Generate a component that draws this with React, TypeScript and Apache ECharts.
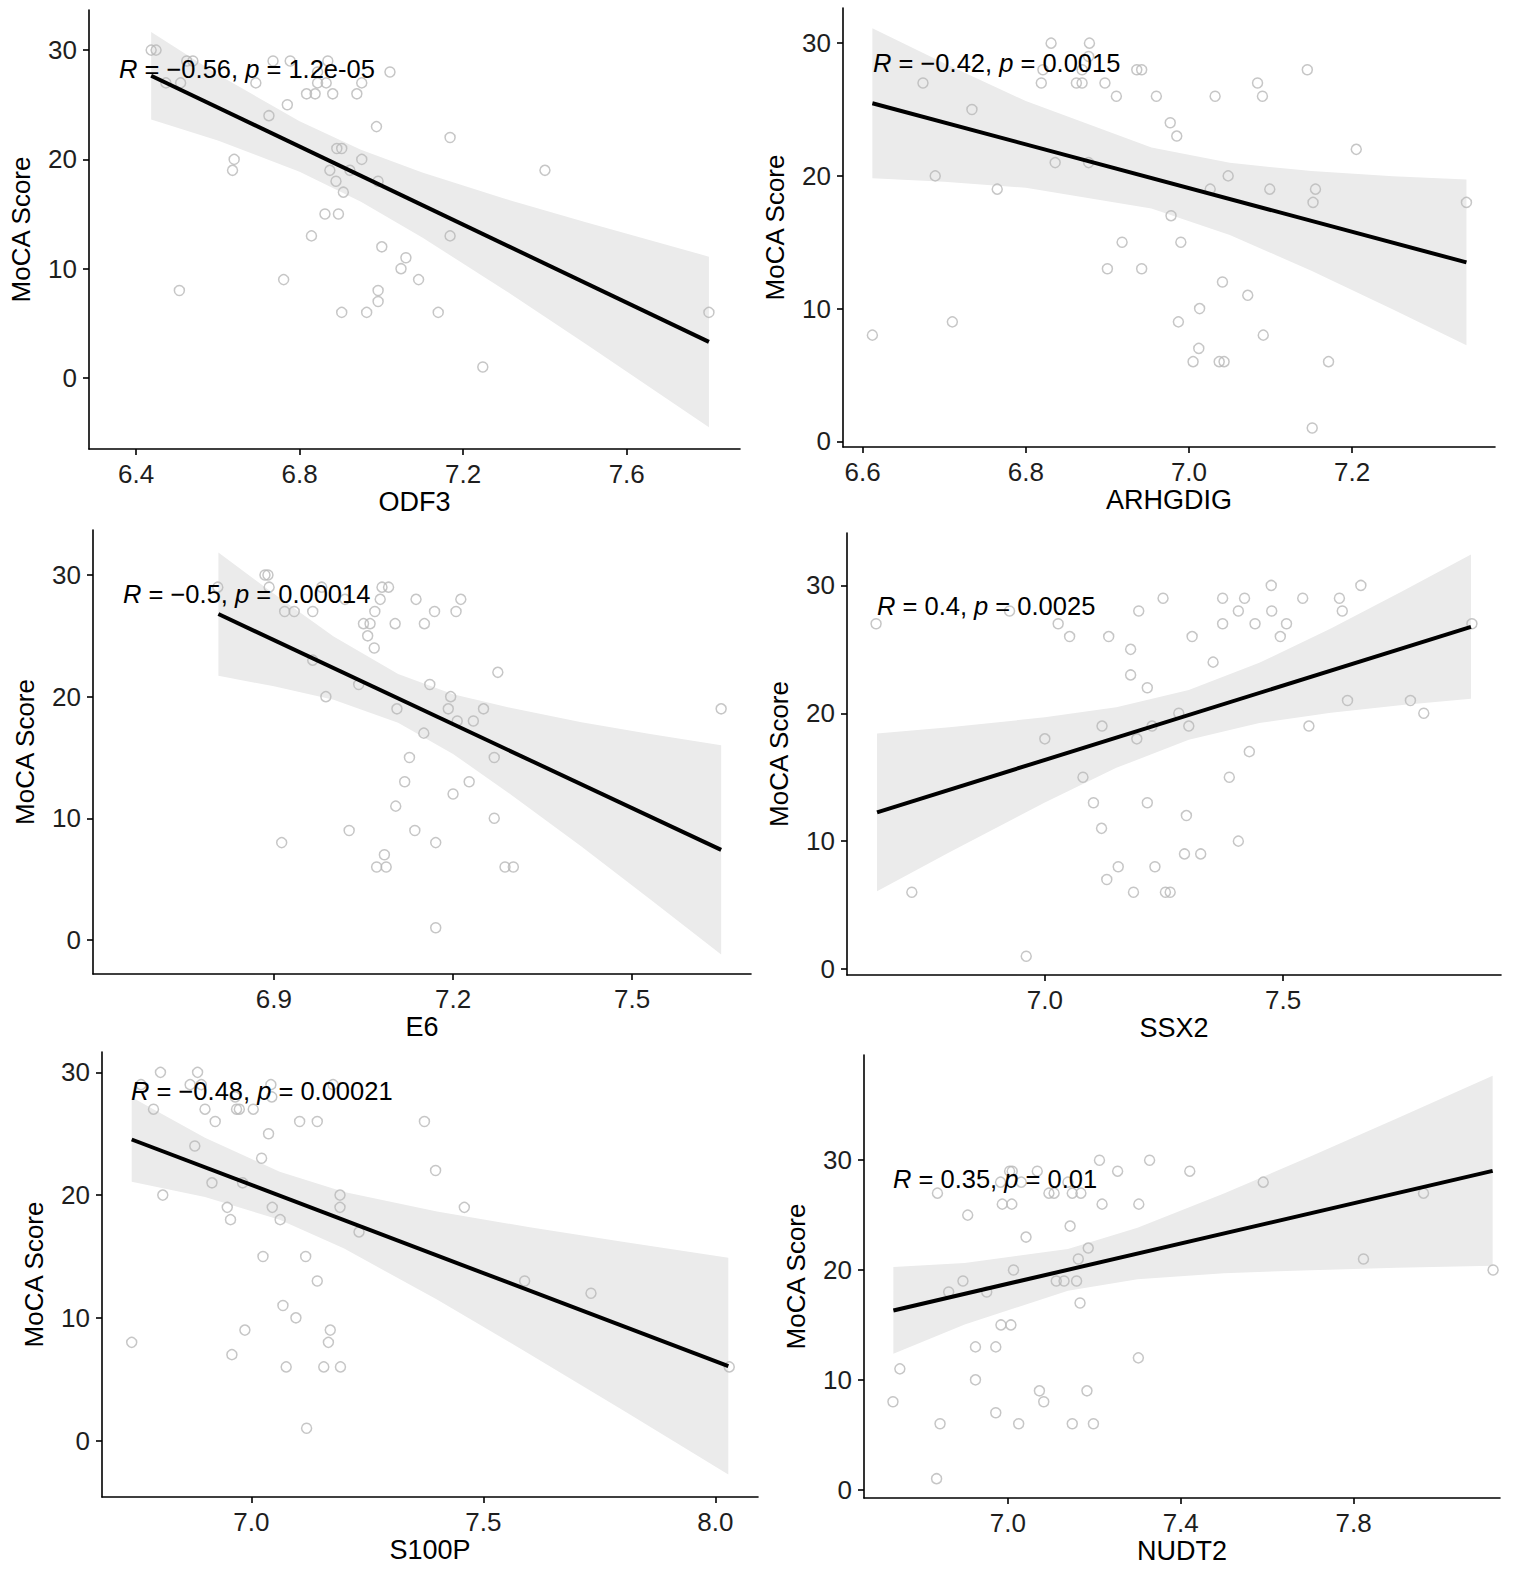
import React, { useEffect, useRef } from "react";
import * as echarts from "echarts";

const FONT = '"Liberation Sans", Arial, Helvetica, sans-serif';

// ---------- shared ticks ----------
const yTicks = [0, 10, 20, 30];

// ---------- Panel 1: ODF3 ----------
const odf3XTicks = [6.4, 6.8, 7.2, 7.6];
const odf3Points = [
  [6.437, 30], [6.449, 30], [6.473, 27], [6.509, 27], [6.506, 8], [6.524, 29], [6.539, 29],
  [6.693, 27], [6.735, 29], [6.777, 29], [6.869, 29], [6.844, 27], [6.865, 27], [6.952, 27],
  [6.817, 26], [6.838, 26], [6.881, 26], [6.94, 26], [6.77, 25], [6.725, 24], [6.988, 23],
  [6.64, 20], [6.636, 19], [6.891, 21], [6.903, 21], [6.952, 20], [6.874, 19], [6.923, 19],
  [6.889, 18], [6.992, 18], [6.907, 17], [6.862, 15], [6.895, 15], [6.829, 13], [7.001, 12],
  [7.06, 11], [7.048, 10], [7.091, 9], [6.761, 9], [6.992, 8], [6.992, 7], [6.903, 6],
  [6.964, 6], [7.139, 6], [7.021, 28], [7.168, 22], [7.168, 13], [7.4, 19], [7.248, 1],
  [7.801, 6], [6.844, 28],
];
const odf3Fit = [[6.437, 27.66], [7.801, 3.3]];
const odf3BandX = [6.437, 6.6, 6.8, 6.95, 7.1, 7.3, 7.5, 7.801];
const odf3BandUpper = [31.66, 27.77, 23.48, 20.88, 18.79, 16.42, 14.24, 11.1];
const odf3BandLower = [23.66, 21.73, 18.88, 16.12, 12.85, 8.08, 3.1, -4.5];
const odf3Stat = { r: "−0.56", p: "1.2e-05" };

// ---------- Panel 2: ARHGDIG ----------
const arhgdigXTicks = [6.6, 6.8, 7.0, 7.2];
const arhgdigPoints = [
  [6.831, 30], [6.878, 30], [6.877, 29], [6.821, 28], [6.869, 28], [6.936, 28], [6.942, 28],
  [7.145, 28], [6.674, 27], [6.819, 27], [6.862, 27], [6.869, 27], [6.897, 27], [7.084, 27],
  [6.911, 26], [6.96, 26], [7.032, 26], [7.09, 26], [6.734, 25], [6.977, 24], [6.985, 23],
  [7.205, 22], [6.836, 21], [6.877, 21], [6.689, 20], [7.048, 20], [6.765, 19], [7.026, 19],
  [7.099, 19], [7.155, 19], [7.152, 18], [7.34, 18], [6.978, 17], [6.918, 15], [6.99, 15],
  [6.9, 13], [6.942, 13], [7.041, 12], [7.072, 11], [7.013, 10], [6.71, 9], [6.987, 9],
  [6.612, 8], [7.091, 8], [7.012, 7], [7.005, 6], [7.037, 6], [7.043, 6], [7.171, 6],
  [7.151, 1],
];
const arhgdigFit = [[6.612, 25.47], [7.34, 13.48]];
const arhgdigBandX = [6.612, 6.7, 6.8, 6.954, 7.05, 7.15, 7.25, 7.34];
const arhgdigBandUpper = [31.12, 28.49, 25.64, 22.14, 20.98, 20.36, 19.98, 19.73];
const arhgdigBandLower = [19.82, 19.55, 19.1, 17.54, 15.54, 12.86, 9.94, 7.23];
const arhgdigStat = { r: "−0.42", p: "0.0015" };

// ---------- Panel 3: E6 ----------
const e6XTicks = [6.9, 7.2, 7.5];
const e6Points = [
  [6.806, 29], [6.885, 30], [6.89, 30], [6.892, 29], [6.98, 29], [7.081, 29], [7.092, 29],
  [6.918, 27], [6.934, 27], [6.965, 27], [7.019, 28], [7.078, 28], [7.138, 28], [7.213, 28],
  [7.069, 27], [7.169, 27], [7.205, 27], [7.05, 26], [7.061, 26], [7.103, 26], [7.152, 26],
  [7.057, 25], [7.068, 24], [6.965, 23], [7.275, 22], [7.042, 21], [7.161, 21], [6.987, 20],
  [7.196, 20], [7.106, 19], [7.192, 19], [7.251, 19], [7.649, 19], [7.207, 18], [7.234, 18],
  [7.151, 17], [7.269, 15], [7.127, 15], [7.119, 13], [7.227, 13], [7.2, 12], [7.104, 11],
  [7.269, 10], [7.026, 9], [7.136, 9], [6.913, 8], [7.171, 8], [7.085, 7], [7.072, 6],
  [7.088, 6], [7.287, 6], [7.301, 6], [7.171, 1],
];
const e6Fit = [[6.807, 26.79], [7.649, 7.4]];
const e6BandX = [6.807, 6.9, 7.0, 7.108, 7.2, 7.3, 7.415, 7.53, 7.649];
const e6BandUpper = [31.86, 28.45, 24.95, 21.86, 20.19, 19.04, 17.89, 16.94, 16.0];
const e6BandLower = [21.72, 20.85, 19.75, 17.86, 15.29, 11.84, 7.69, 3.34, -1.2];
const e6Stat = { r: "−0.5", p: "0.00014" };

// ---------- Panel 4: SSX2 ----------
const ssx2XTicks = [7.0, 7.5];
const ssx2Points = [
  [6.646, 27], [6.721, 6], [6.926, 28], [6.961, 1], [7.0, 18], [7.028, 27], [7.052, 26],
  [7.08, 15], [7.102, 13], [7.12, 19], [7.119, 11], [7.13, 7], [7.134, 26], [7.154, 8],
  [7.18, 25], [7.18, 23], [7.186, 6], [7.197, 28], [7.193, 18], [7.215, 22], [7.215, 13],
  [7.225, 19], [7.231, 8], [7.248, 29], [7.253, 6], [7.263, 6], [7.281, 20], [7.293, 9],
  [7.297, 12], [7.302, 19], [7.309, 26], [7.327, 9], [7.353, 24], [7.373, 29], [7.373, 27],
  [7.387, 15], [7.406, 28], [7.406, 10], [7.419, 29], [7.429, 17], [7.441, 27], [7.475, 30],
  [7.476, 28], [7.494, 26], [7.507, 27], [7.541, 29], [7.554, 19], [7.618, 29], [7.624, 28],
  [7.635, 21], [7.663, 30], [7.767, 21], [7.795, 20], [7.896, 27],
];
const ssx2Fit = [[6.648, 12.25], [7.894, 26.76]];
const ssx2BandX = [6.648, 6.8, 7.0, 7.15, 7.302, 7.45, 7.6, 7.75, 7.894];
const ssx2BandUpper = [18.41, 18.91, 19.68, 20.47, 21.82, 23.95, 26.64, 29.54, 32.41];
const ssx2BandLower = [6.09, 9.13, 13.02, 15.73, 17.92, 19.23, 20.04, 20.64, 21.13];
const ssx2Stat = { r: "0.4", p: "0.0025" };

// ---------- Panel 5: S100P ----------
const s100pXTicks = [7.0, 7.5, 8.0];
const s100pPoints = [
  [6.804, 30], [6.884, 30], [6.762, 29], [6.868, 29], [6.892, 29], [7.042, 29], [7.176, 29],
  [6.965, 28], [7.044, 28], [6.789, 27], [6.9, 27], [6.968, 27], [6.974, 27], [7.004, 27],
  [6.922, 26], [7.104, 26], [7.142, 26], [7.373, 26], [7.037, 25], [6.878, 24], [7.022, 23],
  [7.397, 22], [6.915, 21], [6.981, 21], [6.809, 20], [7.191, 20], [6.948, 19], [7.045, 19],
  [7.191, 19], [7.459, 19], [6.955, 18], [7.062, 18], [7.232, 17], [7.025, 15], [7.117, 15],
  [7.142, 13], [7.589, 13], [7.732, 12], [7.068, 11], [7.096, 10], [6.986, 9], [7.17, 9],
  [6.742, 8], [7.166, 8], [6.958, 7], [7.075, 6], [7.156, 6], [7.192, 6], [8.03, 6],
  [7.119, 1],
];
const s100pFit = [[6.742, 24.53], [8.028, 6.06]];
const s100pBandX = [6.742, 6.9, 7.061, 7.2, 7.4, 7.6, 7.8, 8.028];
const s100pBandUpper = [27.97, 24.68, 21.9, 20.26, 18.67, 17.38, 16.19, 14.89];
const s100pBandLower = [21.09, 19.84, 18.0, 15.64, 11.49, 7.04, 2.49, -2.77];
const s100pStat = { r: "−0.48", p: "0.00021" };

// ---------- Panel 6: NUDT2 ----------
const nudt2XTicks = [7.0, 7.4, 7.8];
const nudt2Points = [
  [7.212, 30], [7.328, 30], [7.068, 29], [7.004, 29], [7.01, 29], [7.254, 29], [7.421, 29],
  [7.591, 28], [6.983, 28], [7.031, 28], [7.139, 28], [6.837, 27], [7.095, 27], [7.107, 27],
  [7.149, 27], [7.169, 27], [7.962, 27], [6.987, 26], [7.009, 26], [7.218, 26], [7.303, 26],
  [6.907, 25], [7.144, 24], [7.042, 23], [7.186, 22], [7.163, 21], [7.823, 21], [7.013, 20],
  [8.123, 20], [6.896, 19], [7.112, 19], [7.13, 19], [7.159, 19], [6.863, 18], [6.951, 18],
  [7.167, 17], [6.984, 15], [7.007, 15], [6.925, 13], [6.972, 13], [7.302, 12], [6.75, 11],
  [6.925, 10], [7.073, 9], [7.183, 9], [6.734, 8], [7.083, 8], [6.972, 7], [6.843, 6],
  [7.025, 6], [7.149, 6], [7.198, 6], [6.835, 1],
];
const nudt2Fit = [[6.735, 16.32], [8.122, 29.03]];
const nudt2BandX = [6.735, 6.9, 7.139, 7.3, 7.5, 7.7, 7.9, 8.122];
const nudt2BandUpper = [20.27, 20.63, 21.92, 23.85, 26.96, 30.33, 33.8, 37.68];
const nudt2BandLower = [12.37, 15.03, 18.12, 19.15, 19.7, 19.99, 20.2, 20.38];
const nudt2Stat = { r: "0.35", p: "0.01" };

// ---------- panel table (data refs + layout) ----------
const panels = [
  {
    gene: "ODF3", points: odf3Points, fit: odf3Fit, bx: odf3BandX, bu: odf3BandUpper, bl: odf3BandLower,
    xTicks: odf3XTicks, stat: odf3Stat,
    grid: { left: 89, top: 10, width: 651, height: 439 }, xr: [6.285, 7.877], yr: [-6.5, 33.67], lab: [119, 69],
  },
  {
    gene: "ARHGDIG", points: arhgdigPoints, fit: arhgdigFit, bx: arhgdigBandX, bu: arhgdigBandUpper, bl: arhgdigBandLower,
    xTicks: arhgdigXTicks, stat: arhgdigStat,
    grid: { left: 843, top: 8, width: 652, height: 439 }, xr: [6.576, 7.375], yr: [-0.43, 32.65], lab: [873, 63],
  },
  {
    gene: "E6", points: e6Points, fit: e6Fit, bx: e6BandX, bu: e6BandUpper, bl: e6BandLower,
    xTicks: e6XTicks, stat: e6Stat,
    grid: { left: 93, top: 530, width: 658, height: 444 }, xr: [6.597, 7.699], yr: [-2.8, 33.7], lab: [123, 594],
  },
  {
    gene: "SSX2", points: ssx2Points, fit: ssx2Fit, bx: ssx2BandX, bu: ssx2BandUpper, bl: ssx2BandLower,
    xTicks: ssx2XTicks, stat: ssx2Stat,
    grid: { left: 847, top: 533, width: 654, height: 442 }, xr: [6.585, 7.957], yr: [-0.47, 34.1], lab: [877, 606],
  },
  {
    gene: "S100P", points: s100pPoints, fit: s100pFit, bx: s100pBandX, bu: s100pBandUpper, bl: s100pBandLower,
    xTicks: s100pXTicks, stat: s100pStat,
    grid: { left: 102, top: 1052, width: 656, height: 445 }, xr: [6.678, 8.092], yr: [-4.6, 31.66], lab: [131, 1091],
  },
  {
    gene: "NUDT2", points: nudt2Points, fit: nudt2Fit, bx: nudt2BandX, bu: nudt2BandUpper, bl: nudt2BandLower,
    xTicks: nudt2XTicks, stat: nudt2Stat,
    grid: { left: 864, top: 1055, width: 636, height: 443 }, xr: [6.667, 8.139], yr: [-0.76, 39.58], lab: [893, 1179],
  },
];

const axisLineStyle = { color: "#000", width: 1.6 };

function buildOption() {
  const grid = panels.map((p) => ({ ...p.grid, containLabel: false }));
  const xAxis = panels.map((p, i) => ({
    type: "value",
    gridIndex: i,
    min: p.xr[0],
    max: p.xr[1],
    name: p.gene,
    nameLocation: "middle",
    nameGap: 39,
    nameTextStyle: { fontSize: 27, color: "#000", fontFamily: FONT },
    axisLine: { show: true, onZero: false, lineStyle: axisLineStyle },
    axisTick: { show: true, length: 6, customValues: p.xTicks, lineStyle: axisLineStyle },
    axisLabel: {
      show: true, customValues: p.xTicks, margin: 12, fontSize: 26, color: "#1e1e1e", fontFamily: FONT,
      formatter: (v: number) => v.toFixed(1),
    },
    splitLine: { show: false },
  }));
  const yAxis = panels.map((p, i) => ({
    type: "value",
    gridIndex: i,
    min: p.yr[0],
    max: p.yr[1],
    name: "MoCA Score",
    nameLocation: "middle",
    nameGap: 55,
    nameTextStyle: { fontSize: 26, color: "#000", fontFamily: FONT },
    axisLine: { show: true, onZero: false, lineStyle: axisLineStyle },
    axisTick: { show: true, length: 6, customValues: yTicks, lineStyle: axisLineStyle },
    axisLabel: {
      show: true, customValues: yTicks, margin: 12, fontSize: 26, color: "#1e1e1e", fontFamily: FONT,
      formatter: (v: number) => String(Math.round(v)),
    },
    splitLine: { show: false },
  }));

  const series: any[] = [];
  panels.forEach((p, i) => {
    series.push({
      type: "custom",
      xAxisIndex: i,
      yAxisIndex: i,
      silent: true,
      z: 1,
      data: [[p.bx[0], p.bu[0]]],
      renderItem: (_params: any, api: any) => {
        const pts: number[][] = [];
        for (let j = 0; j < p.bx.length; j++) pts.push(api.coord([p.bx[j], p.bu[j]]));
        for (let j = p.bx.length - 1; j >= 0; j--) pts.push(api.coord([p.bx[j], p.bl[j]]));
        return { type: "polygon", shape: { points: pts }, style: { fill: "#ebebeb", stroke: "none" } };
      },
    });
    series.push({
      type: "scatter",
      xAxisIndex: i,
      yAxisIndex: i,
      z: 2,
      symbol: "circle",
      symbolSize: 10,
      itemStyle: { color: "rgba(0,0,0,0)", borderColor: "#b8b8b8", borderWidth: 1.5 },
      data: p.points,
    });
    series.push({
      type: "line",
      xAxisIndex: i,
      yAxisIndex: i,
      z: 3,
      showSymbol: false,
      symbol: "none",
      lineStyle: { color: "#000", width: 4 },
      data: p.fit,
    });
  });

  const graphic = panels.map((p) => ({
    type: "text",
    x: p.lab[0],
    y: p.lab[1],
    z: 100,
    style: {
      text: `{i|R} = ${p.stat.r}, {i|p} = ${p.stat.p}`,
      fill: "#000",
      fontSize: 25.5,
      fontFamily: FONT,
      align: "left",
      verticalAlign: "middle",
      rich: { i: { fontStyle: "italic", fontSize: 25.5, fontFamily: FONT, fill: "#000" } },
    },
  }));

  return { animation: false, backgroundColor: "#fff", grid, xAxis, yAxis, series, graphic };
}

export default function App() {
  const ref = useRef<HTMLDivElement>(null);
  useEffect(() => {
    document.body.style.margin = "0";
    if (!ref.current) return;
    const chart = echarts.init(ref.current, null, { renderer: "svg" });
    chart.setOption(buildOption() as any);
    return () => chart.dispose();
  }, []);
  return <div ref={ref} style={{ position: "absolute", left: 0, top: 0, width: 1536, height: 1575 }} />;
}
